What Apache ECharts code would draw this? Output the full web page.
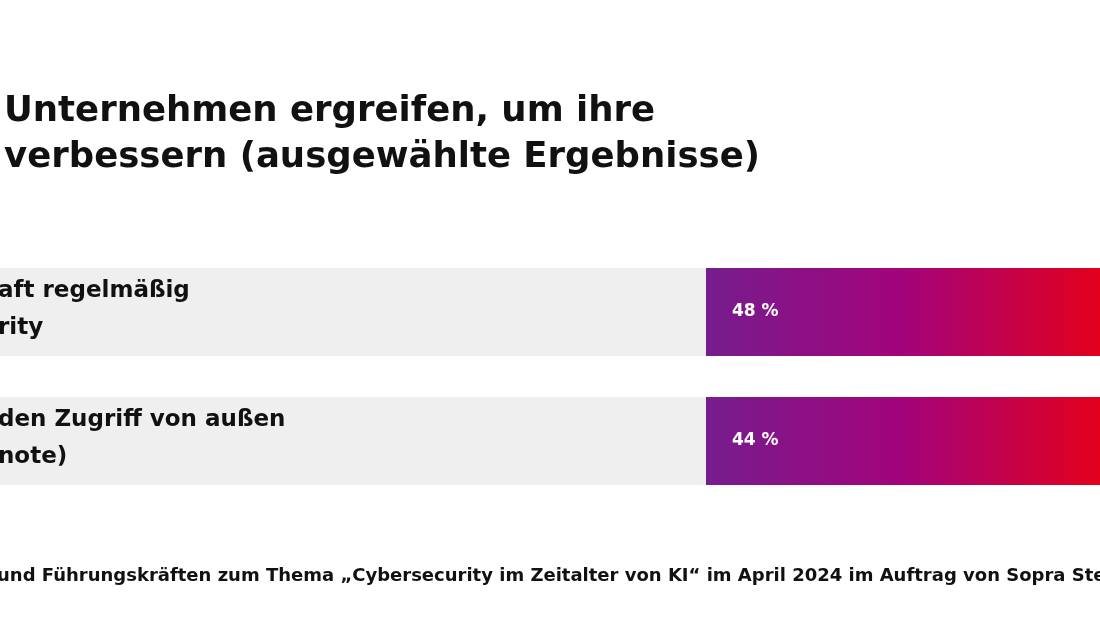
<!DOCTYPE html>
<html>
<head>
<meta charset="utf-8">
<title>Cybersecurity Maßnahmen</title>
<script src="https://cdn.jsdelivr.net/npm/echarts@6/dist/echarts.min.js"></script>
<style>
    html, body { margin: 0; padding: 0; background: #fff; }
    #chart { width: 1100px; height: 618px; }
</style>
</head>
<body>
<div id="chart"></div>
<script>

// data
const categories = ['aft regelmäßig\nrity', 'den Zugriff von außen\nnote)'];
const values = [48, 44];
const rowFill = [100, 100];

const titleLines = ['Unternehmen ergreifen, um ihre', 'verbessern (ausgewählte Ergebnisse)'];
const footer = 'und Führungskräften zum Thema „Cybersecurity im Zeitalter von KI“ im April 2024 im Auftrag von Sopra Steria';

const font = '"DejaVu Sans", sans-serif';

const chart = echarts.init(document.getElementById('chart'));

chart.setOption({
    animation: false,
    graphic: [
        {
            type: 'text',
            left: 4,
            top: 89,
            style: {
                text: titleLines.join('\n'),
                font: `bold 35.5px ${font}`,
                lineHeight: 46,
                fill: '#111',
            },
        },
        {
            type: 'text',
            left: -3,
            top: 567,
            style: {
                text: footer,
                font: `bold 18px ${font}`,
                fill: '#111',
            },
        },
    ],
    grid: [
        { left: 0, right: 0, top: 247.5, height: 258 },
        { left: 706, right: 0, top: 247.5, height: 258 },
    ],
    xAxis: [
        { gridIndex: 0, type: 'value', min: 0, max: 100, show: false },
        // the bars run past the right edge of the picture
        { gridIndex: 1, type: 'value', min: 0, max: 43, show: false },
    ],
    yAxis: [
        { gridIndex: 0, type: 'category', data: categories, inverse: true, show: false },
        { gridIndex: 1, type: 'category', data: categories, inverse: true, show: false },
    ],
    series: [
        {
            // grey rows carrying the category texts
            type: 'bar',
            xAxisIndex: 0,
            yAxisIndex: 0,
            data: rowFill,
            barWidth: 88,
            itemStyle: { color: '#efefef' },
            label: {
                show: true,
                position: 'insideLeft',
                distance: 0,
                offset: [-2, -2],
                formatter: (p) => categories[p.dataIndex],
                color: '#111',
                fontFamily: font,
                fontWeight: 'bold',
                fontSize: 23,
                lineHeight: 37,
            },
            silent: true,
        },
        {
            type: 'bar',
            xAxisIndex: 1,
            yAxisIndex: 1,
            data: values,
            barWidth: 88,
            clip: true,
            itemStyle: {
                color: new echarts.graphic.LinearGradient(0, 0, 1, 0, [
                    { offset: 0, color: '#761d8e' },
                    { offset: 0.5, color: '#a3037b' },
                    { offset: 1, color: '#e3001c' },
                ]),
            },
            label: {
                show: true,
                position: 'insideLeft',
                distance: 26,
                formatter: '{c} %',
                color: '#fff',
                fontFamily: font,
                fontWeight: 'bold',
                fontSize: 17,
            },
        },
    ],
});

</script>
</body>
</html>
